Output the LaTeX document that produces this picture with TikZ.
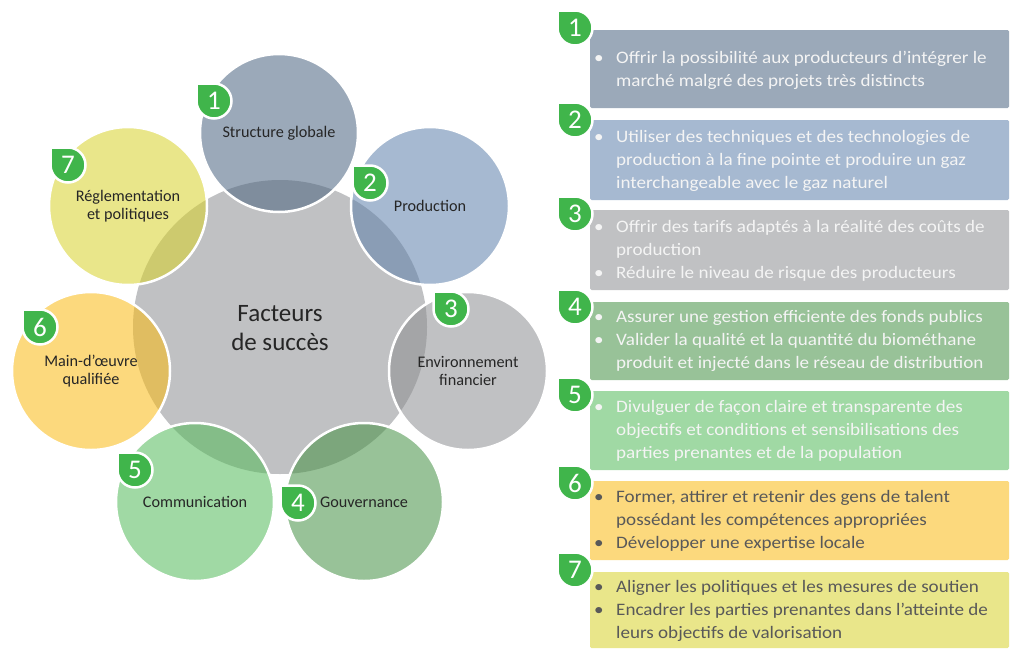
\documentclass[tikz,border=0pt]{standalone}
\usepackage{fontspec}
\setmainfont{Carlito}
\newfontfamily\boxfont[FakeStretch=1.09]{Carlito}
\definecolor{c1}{HTML}{9BA9B9}
\definecolor{c2}{HTML}{A6B9D1}
\definecolor{c3}{HTML}{C0C1C3}
\definecolor{c4}{HTML}{98C298}
\definecolor{c5}{HTML}{A0D9A4}
\definecolor{c6}{HTML}{FCD97D}
\definecolor{c7}{HTML}{E9E68A}
\definecolor{o1}{HTML}{7F8D9D}
\definecolor{o2}{HTML}{8A9DB5}
\definecolor{o3}{HTML}{A4A5A7}
\definecolor{o4}{HTML}{7CA67C}
\definecolor{o5}{HTML}{84BD88}
\definecolor{o6}{HTML}{E0BD61}
\definecolor{o7}{HTML}{CDCA6E}
\definecolor{cg}{HTML}{C0C1C3}
\definecolor{bgreen}{HTML}{40B54B}
\definecolor{txt}{HTML}{262626}
\definecolor{lighttxt}{HTML}{F4F4F4}
\definecolor{darktxt}{HTML}{595959}
\tikzset{
  ring/.style={draw=white, line width=2.5pt},
  badgeshape/.style={fill=bgreen, draw=white, line width=2.5pt},
  lbl/.style={font=\fontsize{16.2}{17.5}\selectfont, text=txt, align=center, inner sep=0pt},
  num/.style={font=\fontsize{27}{27}\selectfont, text=white, inner sep=0pt},
  boxfill/.style={rounded corners=1.5pt},
  boxtxt/.style={anchor=west, align=left, inner sep=0pt, font=\boxfont\fontsize{17.5}{23}\selectfont},
}
\newcommand\bul{\makebox[22pt][l]{•}}
\newcommand\cont{\hspace*{22pt}}
\newcommand\mkbadge[4]{%
  \path[badgeshape] (#2-17.5,#3-17.5) -- (#2,#3-17.5) arc[start angle=90,end angle=-180,radius=17.5pt] -- cycle;
  \node[num] (#1) at (#2,#3) {#4};}
\newcommand\factor[6]{%
  \fill[#4] (#2,#3) circle[radius=79pt];
  \begin{scope}
    \clip (#2,#3) circle[radius=79pt];
    \fill[#5] (ctr.center) circle[radius=147pt];
  \end{scope}
  \draw[ring] (#2,#3) circle[radius=79pt];
  \node[lbl] (#1) at (#2,#3) {#6};}
\begin{document}
\begin{tikzpicture}[x=1pt,y=-1pt]
\useasboundingbox[fill=white] (0,0) rectangle (1016,648);
% central circle
\node[circle, fill=cg, minimum size=294pt, inner sep=0pt] (ctr) at (280,327) {};
\factor{f1}{279}{133}{c1}{o1}{Structure globale}
\factor{f2}{430}{206}{c2}{o2}{Production}
\factor{f3}{468}{371}{c3}{o3}{Environnement\\financier}
\factor{f4}{364}{502}{c4}{o4}{Gouvernance}
\factor{f5}{195}{502}{c5}{o5}{Communication}
\factor{f6}{91}{371}{c6}{o6}{Main-d’œuvre\\qualifiée}
\factor{f7}{128}{206}{c7}{o7}{Réglementation\\et politiques}
\node[font=\fontsize{25}{29}\selectfont, text=txt, align=center, inner sep=0pt] (title) at (280,328) {Facteurs\\de succès};
% left badges
\mkbadge{lb1}{214}{101}{1}
\mkbadge{lb2}{370}{183}{2}
\mkbadge{lb3}{451}{309}{3}
\mkbadge{lb4}{298}{503}{4}
\mkbadge{lb5}{135}{470}{5}
\mkbadge{lb6}{40}{327}{6}
\mkbadge{lb7}{68}{165}{7}
% right boxes
\fill[c1, boxfill] (590,30) rectangle (1009,108);
\fill[c2, boxfill] (590,120) rectangle (1009,200);
\fill[c3, boxfill] (590,210) rectangle (1009,290);
\fill[c4, boxfill] (590,302) rectangle (1009,380);
\fill[c5, boxfill] (590,391) rectangle (1009,470);
\fill[c6, boxfill] (590,481) rectangle (1009,560);
\fill[c7, boxfill] (590,572) rectangle (1009,648);
\node[boxtxt, text=lighttxt] (t1) at (594,70) {\bul Offrir la possibilité aux producteurs d’intégrer le\\\cont marché malgré des projets très distincts};
\node[boxtxt, text=lighttxt] (t2) at (594,161) {\bul Utiliser des techniques et des technologies de\\\cont production à la fine pointe et produire un gaz\\\cont interchangeable avec le gaz naturel};
\node[boxtxt, text=lighttxt] (t3) at (594,251) {\bul Offrir des tarifs adaptés à la réalité des coûts de\\\cont production\\\bul Réduire le niveau de risque des producteurs};
\node[boxtxt, text=lighttxt] (t4) at (594,341) {\bul Assurer une gestion efficiente des fonds publics\\\bul Valider la qualité et la quantité du biométhane\\\cont produit et injecté dans le réseau de distribution};
\node[boxtxt, text=lighttxt] (t5) at (594,431) {\bul Divulguer de façon claire et transparente des\\\cont objectifs et conditions et sensibilisations des\\\cont parties prenantes et de la population};
\node[boxtxt, text=darktxt] (t6) at (594,521) {\bul Former, attirer et retenir des gens de talent\\\cont possédant les compétences appropriées\\\bul Développer une expertise locale};
\node[boxtxt, text=darktxt] (t7) at (594,611) {\bul Aligner les politiques et les mesures de soutien\\\bul Encadrer les parties prenantes dans l’atteinte de\\\cont leurs objectifs de valorisation};
% right badges
\mkbadge{rb1}{575}{28}{1}
\mkbadge{rb2}{575}{120}{2}
\mkbadge{rb3}{575}{214}{3}
\mkbadge{rb4}{575}{307}{4}
\mkbadge{rb5}{575}{395}{5}
\mkbadge{rb6}{575}{483}{6}
\mkbadge{rb7}{575}{570}{7}
\end{tikzpicture}
\end{document}
